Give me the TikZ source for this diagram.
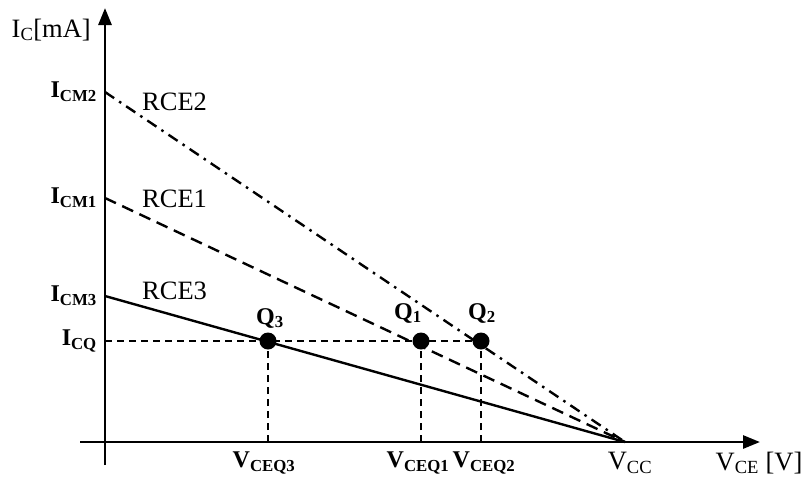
\documentclass[tikz,border=0pt]{standalone}
\usepackage{fontspec}
\setmainfont{Liberation Serif}
\usetikzlibrary{arrows.meta}
\begin{document}
\begin{tikzpicture}[x=1pt,y=-1pt,
  font=\fontsize{24}{28}\selectfont,
  axis/.style={line width=2.8pt,-{Triangle[length=17pt,width=13pt]}},
  grid/.style={line width=1.5pt,dash pattern=on 7pt off 5pt},
  rceone/.style={line width=2.4pt,dash pattern=on 12pt off 7pt},
  rcetwo/.style={line width=2.4pt,dash pattern=on 11pt off 6pt on 2.5pt off 6pt},
  rcethree/.style={line width=2.4pt},
  qdot/.style={circle,fill=black,inner sep=0pt,minimum size=17pt},
  lbl/.style={inner sep=0pt},
  big/.style={font=\fontsize{26.5}{30}\selectfont}]
\useasboundingbox (0,0) rectangle (805,483);
% key points
\coordinate (ybot) at (105,465);
\coordinate (ytop) at (105,8);
\coordinate (xbeg) at (80,442);
\coordinate (xend) at (760,442);
\coordinate (vcc) at (625,442);
\coordinate (icm2) at (105,92);
\coordinate (icm1) at (105,198);
\coordinate (icm3) at (105,296);
\coordinate (icq) at (105,341);
\coordinate (b3) at (268,442);
\coordinate (b1) at (421,442);
\coordinate (b2) at (481,442);
% grid
\draw[grid] (icq) -- (481,341);
\draw[grid] (b3) -- (268,341);
\draw[grid] (b1) -- (421,341);
\draw[grid] (b2) -- (481,341);
% load lines
\draw[rcetwo] (icm2) -- (vcc);
\draw[rceone] (icm1) -- (vcc);
\draw[rcethree] (icm3) -- (vcc);
% axes
\draw[axis] (ybot) -- (ytop);
\draw[axis] (xbeg) -- (xend);
% Q points
\node[qdot] (q3) at (268,341) {};
\node[qdot] (q1) at (421,341) {};
\node[qdot] (q2) at (481,341) {};
% labels
\node[lbl,big,anchor=east] (lic) at (91,30) {I\textsubscript{C}[mA]};
\node[lbl,anchor=east] (licm2) at (97,92) {\textbf{I\textsubscript{CM2}}};
\node[lbl,anchor=east] (licm1) at (97,198) {\textbf{I\textsubscript{CM1}}};
\node[lbl,anchor=east] (licm3) at (97,296) {\textbf{I\textsubscript{CM3}}};
\node[lbl,anchor=east] (licq) at (97,341) {\textbf{I\textsubscript{CQ}}};
\node[lbl,big,anchor=west] (r2) at (142,102) {RCE2};
\node[lbl,big,anchor=west] (r1) at (142,199) {RCE1};
\node[lbl,big,anchor=west] (r3) at (142,291) {RCE3};
\node[lbl] (lq3) at (270,318) {\textbf{Q\textsubscript{3}}};
\node[lbl] (lq1) at (408,313) {\textbf{Q\textsubscript{1}}};
\node[lbl] (lq2) at (482,313) {\textbf{Q\textsubscript{2}}};
\node[lbl] (lv3) at (264,463) {\textbf{V\textsubscript{CEQ3}}};
\node[lbl] (lv1) at (418,463) {\textbf{V\textsubscript{CEQ1}}};
\node[lbl] (lv2) at (484,463) {\textbf{V\textsubscript{CEQ2}}};
\node[lbl,big] (lvcc) at (630,463) {V\textsubscript{CC}};
\node[lbl,big] (lvce) at (759,463) {V\textsubscript{CE} [V]};
\end{tikzpicture}
\end{document}
